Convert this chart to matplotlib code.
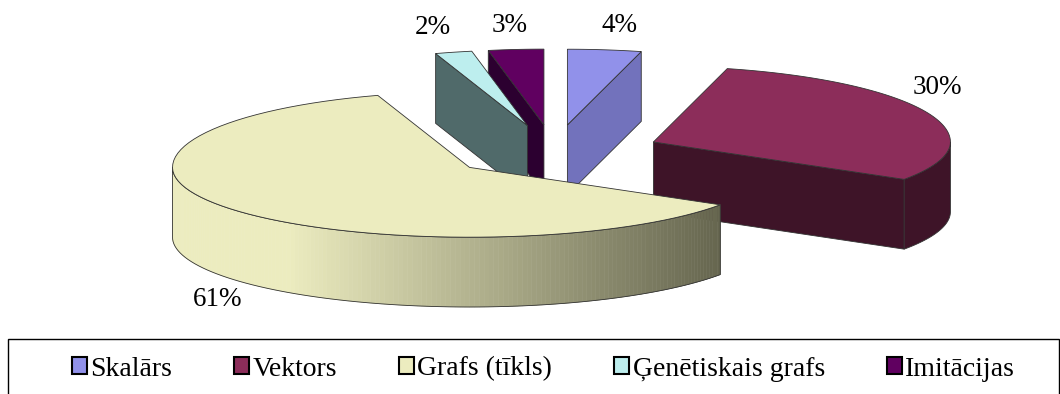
import matplotlib
matplotlib.use("Agg")
import matplotlib.pyplot as plt
import numpy as np
from matplotlib.patches import Polygon, Rectangle

labels = ["Skalārs", "Vektors", "Grafs (tīkls)", "Ģenētiskais grafs", "Imitācijas"]
values = [4, 30, 61, 2, 3]
pct_text = ["4%", "30%", "61%", "2%", "3%"]

top_colors = ["#9191ea", "#8c2d5a", "#ececbf", "#bdeeee", "#600060"]
side_colors = ["#7272bc", "#3e1428", "#66664f", "#506a6a", "#2c0030"]

# pie geometry (rx = 1 in data units)
tilt_back = 0.255
tilt_front = 0.235
depth = 0.235
explode = 0.36

plt.rcParams['font.family'] = ['Liberation Serif', 'DejaVu Serif']

fig = plt.figure(figsize=(10.6, 3.94), dpi=100)
ax = fig.add_axes([0, 0, 1, 1])
scale = 297.0
ax.set_xlim(-554 / scale, (1060 - 554) / scale)
ax.set_ylim((152 - 394) / scale, 152 / scale)
ax.axis("off")


def pt(ox, oy, r, th, z=0.0):
    c = np.cos(th)
    t = tilt_back if c > 0 else tilt_front
    return (ox + r * np.sin(th), oy + t * r * c - z)


def rim(ox, oy, t0, t1, z=0.0, n=80):
    th = np.linspace(t0, t1, n)
    return [pt(ox, oy, 1.0, t, z) for t in th]


def mix(c1, c2, f):
    a = np.array(matplotlib.colors.to_rgb(c1))
    b = np.array(matplotlib.colors.to_rgb(c2))
    return tuple(a + (b - a) * f)


edge = "#333333"
lw = 0.6

# angles, clockwise from 12 o'clock
total = float(sum(values))
starts = np.cumsum([0] + values[:-1]) / total * 2 * np.pi
ends = np.cumsum(values) / total * 2 * np.pi

order = [0, 4, 3, 1, 2]  # back slices first
for i in order:
    a, b = starts[i], ends[i]
    mid = (a + b) / 2
    ox, oy = pt(0.0, 0.0, explode, mid)
    c = (ox, oy)

    # radial faces: start angle (normal a - 90deg), end angle (normal b + 90deg)
    for ang, nrm in ((a, a - np.pi / 2), (b, b + np.pi / 2)):
        if np.cos(nrm) < -1e-6:
            p_r = pt(ox, oy, 1.0, ang)
            face = [c, p_r, pt(ox, oy, 1.0, ang, depth), (ox, oy - depth)]
            ax.add_patch(Polygon(face, closed=True, fc=side_colors[i],
                                 ec=edge, lw=lw, zorder=2))

    # outer wall, front-facing part
    w0, w1 = max(a, np.pi / 2), min(b, 3 * np.pi / 2)
    if w1 > w0:
        if i == 2:
            th = np.linspace(w0, w1, 160)
            for k in range(len(th) - 1):
                t0, t1 = th[k], th[k + 1]
                xpix = (ox + np.sin(t0)) * scale + 554
                f = np.clip((xpix - 290) / (720 - 290), 0, 1)
                col = mix("#ececbf", "#66664f", f)
                quad = [pt(ox, oy, 1, t0), pt(ox, oy, 1, t1),
                        pt(ox, oy, 1, t1, depth), pt(ox, oy, 1, t0, depth)]
                ax.add_patch(Polygon(quad, closed=True, fc=col, ec=col,
                                     lw=0.4, zorder=2))
        else:
            up = rim(ox, oy, w0, w1)
            dn = rim(ox, oy, w1, w0, depth)
            ax.add_patch(Polygon(up + dn, closed=True, fc=side_colors[i],
                                 ec="none", zorder=2))
        up = rim(ox, oy, w0, w1)
        dn = rim(ox, oy, w1, w0, depth)
        ax.add_patch(Polygon(up + dn, closed=True, fc="none",
                             ec=edge, lw=lw, zorder=2))

    # top face
    top = [c] + rim(ox, oy, a, b)
    ax.add_patch(Polygon(top, closed=True, fc=top_colors[i], ec=edge,
                         lw=lw, zorder=2))

# percentage labels
label_pos = [(620, 25), (937, 88), (218, 300), (433, 27), (510, 25)]
for i, (px, py) in enumerate(label_pos):
    ax.text((px - 554) / scale, (152 - py) / scale, pct_text[i],
            ha="center", va="center", fontsize=19.5, color="black", zorder=5)

# legend frame (runs past the bottom edge)
fig.patches.append(Rectangle((8 / 1060, -0.1), (1059 - 8) / 1060,
                             (394 - 339) / 394 + 0.1,
                             transform=fig.transFigure, fc="white",
                             ec="black", lw=1.0))

handles = [Rectangle((0, 0), 1, 1, fc=top_colors[i], ec="black", lw=1.5)
           for i in range(len(labels))]
fig.legend(handles, labels, loc="center left",
           bbox_to_anchor=(58 / 1060, 1 - 369 / 394), ncol=5, frameon=False,
           fontsize=20, handlelength=0.55, handleheight=0.55,
           handletextpad=0.12, columnspacing=2.22, borderpad=0)

fig.savefig("out.png", dpi=100)
